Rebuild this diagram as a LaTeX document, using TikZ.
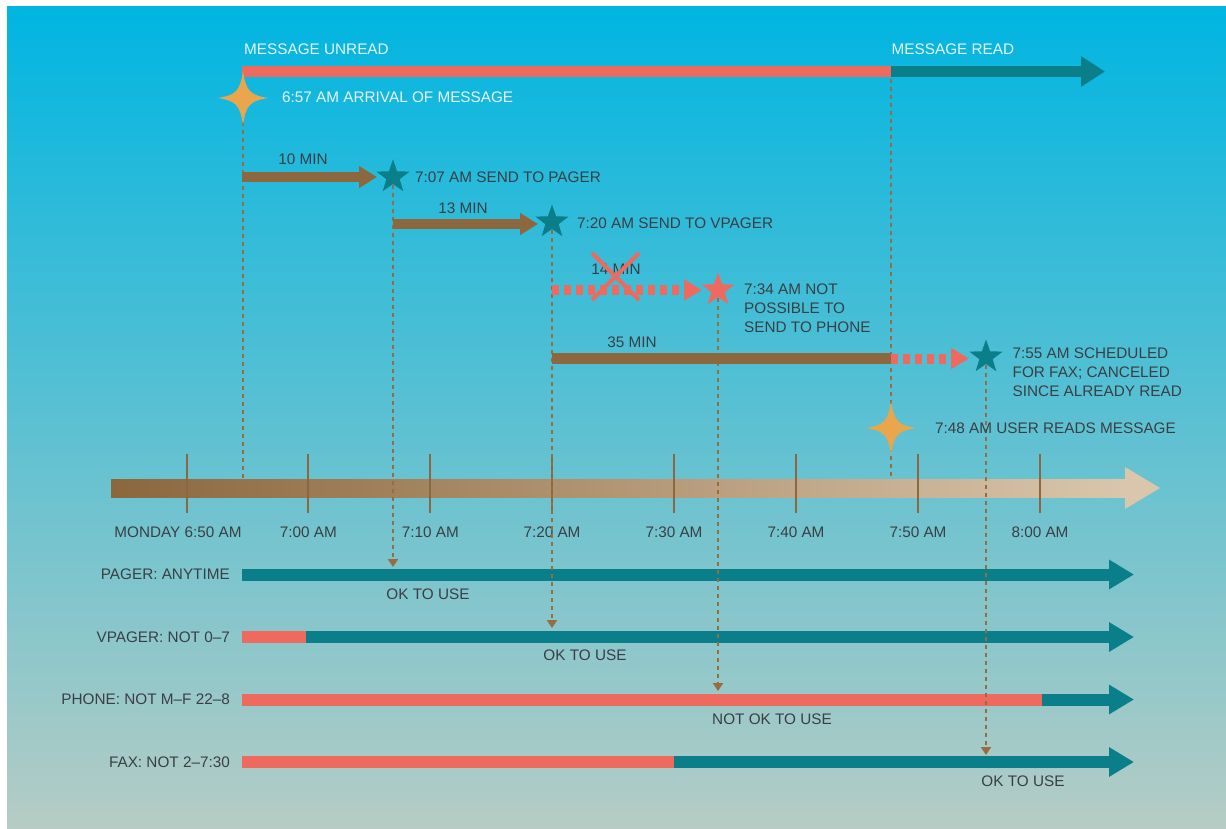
\documentclass[tikz,border=0pt]{standalone}
\usepackage{fontspec}
\setmainfont{Liberation Sans}
\usetikzlibrary{arrows.meta,shapes.geometric}
\definecolor{bgtop}{RGB}{0,181,225}
\definecolor{bgmid}{RGB}{122,195,210}
\definecolor{bgbot}{RGB}{182,204,196}
\definecolor{tlleft}{RGB}{139,103,62}
\definecolor{tlright}{RGB}{217,198,172}
\definecolor{tickc}{RGB}{139,104,66}
\definecolor{dashc}{RGB}{150,108,64}
\definecolor{brownc}{RGB}{141,104,62}
\definecolor{redc}{RGB}{238,106,95}
\definecolor{tealc}{RGB}{10,126,137}
\definecolor{orangec}{RGB}{233,166,76}
\definecolor{darktext}{RGB}{58,63,68}
\definecolor{lighttext}{RGB}{232,245,249}
\tikzset{
  txt/.style={text=darktext, inner sep=0pt},
  ltxt/.style={text=lighttext, inner sep=0pt},
  tickline/.style={draw=tickc, line width=2pt},
  vdash/.style={draw=dashc, line width=2pt, dash pattern=on 4pt off 4pt},
  vdasharrow/.style={vdash, -{Triangle[width=10pt,length=8pt,fill=dashc]}},
  brownarrow/.style={draw=brownc, line width=10pt, -{Triangle[width=21pt,length=18pt]}},
  reddasharrow/.style={draw=redc, line width=10pt, dash pattern=on 7pt off 5pt, -{Triangle[width=20pt,length=18pt]}},
  redbar/.style={draw=redc, line width=12pt},
  tealbar/.style={draw=tealc, line width=12pt, -{Triangle[width=28pt,length=25pt]}},
  starfive/.style={star, star points=5, star point ratio=2.5, minimum size=35pt, inner sep=0pt, draw=none},
  sparkle/.pic={\fill[orangec] (25,0) .. controls (7,3) and (3,7) .. (0,27) .. controls (-3,7) and (-7,3) .. (-25,0) .. controls (-7,-3) and (-3,-7) .. (0,-27) .. controls (3,-7) and (7,-3) .. cycle;}
}
\begin{document}
\begin{tikzpicture}[x=1pt,y=-1pt,font=\fontsize{15.3}{18.8}\selectfont]
\useasboundingbox (0,0) rectangle (1226,829);
\fill[white] (0,0) rectangle (1226,829);
\shade[top color=bgtop,middle color=bgmid,bottom color=bgbot] (7,7) rectangle (1226,829);

% positions
\coordinate (arrive) at (243,98);
\coordinate (c707) at (393,177);
\coordinate (c720) at (552,222);
\coordinate (c734) at (718,290);
\coordinate (c755) at (986,357);
\coordinate (read) at (891,428);
\coordinate (ub0) at (242,71.5);
\coordinate (ub1) at (891,71.5);
\coordinate (ub2) at (1105,71.5);

% timeline
\shade[left color=tlleft,right color=tlright] (111,479) rectangle (1126,497.5);
\fill[tlright] (1125,467) -- (1160,488) -- (1125,509) -- cycle;
\foreach \x in {186.7,308.3,430.3,552,674,796,918,1040}{
  \draw[tickline] (\x,454) -- (\x,513);
}
\node[txt] (l650) at (178,532) {MONDAY 6:50 AM};
\node[txt] (l700) at (308.3,532) {7:00 AM};
\node[txt] (l710) at (430.3,532) {7:10 AM};
\node[txt] (l720) at (552,532) {7:20 AM};
\node[txt] (l730) at (674,532) {7:30 AM};
\node[txt] (l740) at (796,532) {7:40 AM};
\node[txt] (l750) at (918,532) {7:50 AM};
\node[txt] (l800) at (1040,532) {8:00 AM};

% channel rows
\coordinate (r1a) at (242,574.5); \coordinate (r1e) at (1134,574.5);
\coordinate (r2a) at (242,637);   \coordinate (r2b) at (306,637);  \coordinate (r2e) at (1134,637);
\coordinate (r3a) at (242,699.5); \coordinate (r3b) at (1042,699.5); \coordinate (r3e) at (1134,699.5);
\coordinate (r4a) at (242,762);   \coordinate (r4b) at (674,762);  \coordinate (r4e) at (1134,762);
\draw[tealbar] (r1a) -- (r1e);
\draw[redbar] (r2a) -- (r2b);
\draw[tealbar] (r2b) -- (r2e);
\draw[redbar] (r3a) -- (r3b);
\draw[tealbar] (r3b) -- (r3e);
\draw[redbar] (r4a) -- (r4b);
\draw[tealbar] (r4b) -- (r4e);
\node[txt,anchor=east] (n1) at (230,574.5) {PAGER: ANYTIME};
\node[txt,anchor=east] (n2) at (230,637) {VPAGER: NOT 0--7};
\node[txt,anchor=east] (n3) at (230,699.5) {PHONE: NOT M--F 22--8};
\node[txt,anchor=east] (n4) at (230,762) {FAX: NOT 2--7:30};
\node[txt] (ok1) at (428,594.5) {OK TO USE};
\node[txt] (ok2) at (585,655.5) {OK TO USE};
\node[txt] (ok3) at (772,719.5) {NOT OK TO USE};
\node[txt] (ok4) at (1023,781) {OK TO USE};

% dashed verticals
\coordinate (d1) at (243,479);
\coordinate (d2) at (393,567);
\coordinate (d3) at (552,628);
\coordinate (d4) at (718,691);
\coordinate (d5) at (891,479);
\coordinate (d6) at (986,755);
\draw[vdash] (arrive) -- (d1);
\draw[vdasharrow] (c707) -- (d2);
\draw[vdasharrow] (c720) -- (d3);
\draw[vdasharrow] (c734) -- (d4);
\draw[vdash] (ub1) -- (d5);
\draw[vdasharrow] (c755) -- (d6);

% top status bar
\draw[draw=redc, line width=11pt] (ub0) -- (ub1);
\draw[draw=tealc, line width=11pt, -{Triangle[width=29pt,length=24pt]}] (ub1) -- (ub2);
\node[ltxt,anchor=west] (mu) at (244,49.5) {MESSAGE UNREAD};
\node[ltxt,anchor=west] (mr) at (891.5,49.5) {MESSAGE READ};

% attempt arrows
\coordinate (a10s) at (242,177);  \coordinate (a10e) at (377,177);
\coordinate (a13s) at (393,224);  \coordinate (a13e) at (538,224);
\coordinate (a14s) at (552,290);  \coordinate (a14e) at (702,290);
\coordinate (a35s) at (552,358.5); \coordinate (a35m) at (891,358.5); \coordinate (a35e) at (969,358.5);
\draw[brownarrow] (a10s) -- (a10e);
\draw[brownarrow] (a13s) -- (a13e);
\draw[reddasharrow] (a14s) -- (a14e);
\draw[draw=brownc, line width=11pt] (a35s) -- (a35m);
\draw[reddasharrow] (a35m) -- (a35e);
\node[txt] (m10) at (303,159) {10 MIN};
\node[txt] (m13) at (463,208) {13 MIN};
\node[txt] (m14) at (616,269) {14 MIN};
\node[txt] (m35) at (632,342) {35 MIN};

% stars
\pic at (arrive) {sparkle};
\pic at (read) {sparkle};
\node[starfive, fill=tealc] (s707) at (c707) {};
\node[starfive, fill=tealc] (s720) at (c720) {};
\node[starfive, fill=redc] (s734) at (c734) {};
\node[starfive, fill=tealc] (s755) at (c755) {};

% event labels
\node[ltxt,anchor=west] (tarr) at (282,97.5) {6:57 AM ARRIVAL OF MESSAGE};
\node[txt,anchor=west] (t707) at (415,177) {7:07 AM SEND TO PAGER};
\node[txt,anchor=west] (t720) at (577,223) {7:20 AM SEND TO VPAGER};
\node[txt,anchor=west,align=left] (t734) at (744,308.5) {7:34 AM NOT\\POSSIBLE TO\\SEND TO PHONE};
\node[txt,anchor=west,align=left] (t755) at (1012.5,372) {7:55 AM SCHEDULED\\FOR FAX; CANCELED\\SINCE ALREADY READ};
\node[txt,anchor=west] (t748) at (935,428) {7:48 AM USER READS MESSAGE};

% cross
\coordinate (x1) at (592,253); \coordinate (x2) at (639,300);
\coordinate (x3) at (639,253); \coordinate (x4) at (592,300);
\draw[draw=redc, line width=4pt] (x1) -- (x2);
\draw[draw=redc, line width=4pt] (x3) -- (x4);
\end{tikzpicture}
\end{document}
